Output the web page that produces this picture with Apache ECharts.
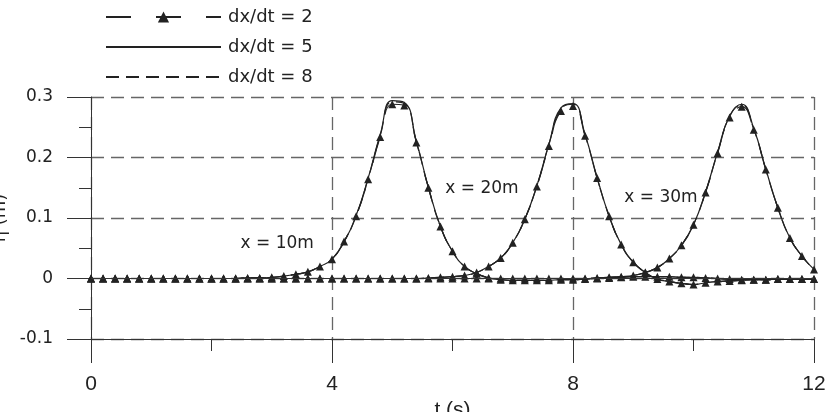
<!DOCTYPE html>
<html><head><meta charset="utf-8">
<script src="https://cdn.jsdelivr.net/npm/echarts@6/dist/echarts.min.js"></script>
<style>html,body{margin:0;padding:0;background:#fff}#c{width:827px;height:412px}</style>
</head><body><div id="c"></div>
<script>
// time samples (s)
const timeS = [0,0.2,0.4,0.6,0.8,1,1.2,1.4,1.6,1.8,2,2.2,2.4,2.6,2.8,3,3.2,3.4,3.6,3.8,4,4.2,4.4,4.6,4.8,5,5.2,5.4,5.6,5.8,6,6.2,6.4,6.6,6.8,7,7.2,7.4,7.6,7.8,8,8.2,8.4,8.6,8.8,9,9.2,9.4,9.6,9.8,10,10.2,10.4,10.6,10.8,11,11.2,11.4,11.6,11.8,12];

// gauge x = 10m
const x10_dt2 = [0,0,0,0,0,0,0,0,0,0, 0,0,0,0.001,0.001, 0.002,0.004,0.007,0.011,0.020, 0.032,0.061,0.103,0.164,0.234, 0.288,0.286,0.225,0.150,0.086, 0.045,0.020,0.008,0.001,-0.002, -0.003,-0.003,-0.003,-0.003,-0.002, -0.002,-0.001,0.000,0.001,0.002, 0.003,0.003,0.003,0.003,0.002, 0.002,0.001,0.000,-0.001,-0.002, -0.002,-0.002,-0.001,-0.001,-0.001, -0.001];
const x10_dt5 = [0,0,0,0,0,0,0,0,0,0, 0,0,0,0.001,0.001, 0.002,0.004,0.007,0.011,0.020, 0.032,0.061,0.104,0.166,0.238, 0.294,0.291,0.227,0.151,0.086, 0.045,0.020,0.008,0.001,-0.002, -0.003,-0.003,-0.003,-0.003,-0.002, -0.002,-0.001,0.000,0.001,0.002, 0.003,0.003,0.003,0.003,0.002, 0.002,0.001,0.000,-0.001,-0.002, -0.002,-0.002,-0.001,-0.001,-0.001, -0.001];
const x10_dt8 = [0,0,0,0,0,0,0,0,0,0, 0,0,0,0.001,0.001, 0.002,0.004,0.007,0.011,0.020, 0.032,0.061,0.103,0.165,0.236, 0.292,0.289,0.226,0.150,0.086, 0.045,0.020,0.008,0.001,-0.002, -0.003,-0.003,-0.003,-0.003,-0.002, -0.002,-0.001,0.000,0.001,0.002, 0.003,0.003,0.003,0.003,0.002, 0.002,0.001,0.000,-0.001,-0.002, -0.002,-0.002,-0.001,-0.001,-0.001, -0.001];

// gauge x = 20m
const x20_dt2 = [0,0,0,0,0,0,0,0,0,0, 0,0,0,0,0, 0,0,0,0,0, 0,0,0,0,0, 0,0,0,0.001,0.002, 0.003,0.005,0.010,0.020,0.034, 0.059,0.098,0.152,0.219,0.277, 0.285,0.236,0.166,0.103,0.056, 0.027,0.010,-0.001,-0.005,-0.008, -0.010,-0.007,-0.005,-0.004,-0.003, -0.002,-0.002,-0.001,-0.001,-0.001, -0.001];
const x20_dt5 = [0,0,0,0,0,0,0,0,0,0, 0,0,0,0,0, 0,0,0,0,0, 0,0,0,0,0, 0,0,0,0.001,0.002, 0.003,0.005,0.010,0.020,0.034, 0.059,0.098,0.153,0.222,0.282, 0.289,0.238,0.167,0.103,0.056, 0.027,0.010,-0.001,-0.005,-0.008, -0.010,-0.007,-0.005,-0.004,-0.003, -0.002,-0.002,-0.001,-0.001,-0.001, -0.001];
const x20_dt8 = [0,0,0,0,0,0,0,0,0,0, 0,0,0,0,0, 0,0,0,0,0, 0,0,0,0,0, 0,0,0,0.001,0.002, 0.003,0.005,0.010,0.020,0.034, 0.059,0.098,0.153,0.221,0.280, 0.288,0.237,0.166,0.103,0.056, 0.027,0.010,-0.001,-0.005,-0.008, -0.010,-0.007,-0.005,-0.004,-0.003, -0.002,-0.002,-0.001,-0.001,-0.001, -0.001];

// gauge x = 30m
const x30_dt2 = [0,0,0,0,0,0,0,0,0,0, 0,0,0,0,0,0,0,0,0,0, 0,0,0,0,0,0,0,0,0,0, 0,0,0,0,0,0,0,0,0,0, 0,0,0.001,0.002,0.003, 0.005,0.010,0.018,0.033,0.055, 0.089,0.142,0.207,0.266,0.284, 0.246,0.180,0.117,0.067,0.037, 0.015];
const x30_dt5 = [0,0,0,0,0,0,0,0,0,0, 0,0,0,0,0,0,0,0,0,0, 0,0,0,0,0,0,0,0,0,0, 0,0,0,0,0,0,0,0,0,0, 0,0,0.001,0.002,0.003, 0.005,0.010,0.018,0.033,0.055, 0.089,0.143,0.209,0.269,0.288, 0.248,0.181,0.117,0.067,0.037, 0.015];
const x30_dt8 = [0,0,0,0,0,0,0,0,0,0, 0,0,0,0,0,0,0,0,0,0, 0,0,0,0,0,0,0,0,0,0, 0,0,0,0,0,0,0,0,0,0, 0,0,0.001,0.002,0.003, 0.005,0.010,0.018,0.033,0.055, 0.089,0.143,0.208,0.268,0.287, 0.247,0.180,0.117,0.067,0.037, 0.015];

const legendNames = ['dx/dt = 2', 'dx/dt = 5', 'dx/dt = 8'];
const xTickLabels = ['0', '4', '8', '12'];
const yTickLabels = ['-0.1', '0', '0.1', '0.2', '0.3'];
const annoText = ['x = 10m', 'x = 20m', 'x = 30m'];
const annoT = [3.09, 6.49, 9.46];
const annoEta = [0.058, 0.149, 0.134];

const INK = '#222';
const FONT = 'DejaVu Sans';
const pairs = arr => timeS.map((t, i) => [t, arr[i]]);

const styles = {
  'dx/dt = 2': { lineStyle: { type: [25, 25], width: 1.2, color: INK }, symbol: 'triangle', symbolSize: 8, showSymbol: true },
  'dx/dt = 5': { lineStyle: { type: 'solid', width: 1.2, color: INK }, symbol: 'none', showSymbol: false },
  'dx/dt = 8': { lineStyle: { type: [13, 7], width: 1.2, color: INK }, symbol: 'none', showSymbol: false }
};

const groups = [
  ['dx/dt = 2', [x10_dt2, x20_dt2, x30_dt2]],
  ['dx/dt = 5', [x10_dt5, x20_dt5, x30_dt5]],
  ['dx/dt = 8', [x10_dt8, x20_dt8, x30_dt8]]
];

const series = [];
// draw lines first, markers on top
[groups[2], groups[1], groups[0]].forEach(([name, arrs]) => {
  arrs.forEach(arr => {
    const st = styles[name];
    series.push({
      name, type: 'line', data: pairs(arr), smooth: 0.5,
      symbol: st.symbol, symbolSize: st.symbolSize || 0, showSymbol: st.showSymbol, showAllSymbol: true,
      itemStyle: { color: INK }, lineStyle: st.lineStyle, z: name === 'dx/dt = 2' ? 4 : 3
    });
  });
});

series[0].markLine = {
  silent: true, symbol: ['none', 'none'], label: { show: false },
  lineStyle: { type: 'solid', color: '#333', width: 1 },
  data: [{ yAxis: 0 }]
};
series[0].markPoint = {
  symbol: 'circle', symbolSize: 0, silent: true,
  label: { show: true, position: 'inside', formatter: p => p.name, color: INK, fontSize: 17, fontFamily: FONT },
  data: annoText.map((s, i) => ({ name: s, coord: [annoT[i], annoEta[i]] }))
};

const chart = echarts.init(document.getElementById('c'), null, { renderer: 'canvas' });
chart.setOption({
  animation: false,
  backgroundColor: '#fff',
  grid: { left: 91, right: 13, top: 97, bottom: 73, containLabel: false, outerBoundsMode: 'none' },
  legend: {
    data: [
      { name: legendNames[0] },
      { name: legendNames[1], itemStyle: { opacity: 0 } },
      { name: legendNames[2], itemStyle: { opacity: 0 } }
    ],
    orient: 'vertical', left: 100, top: 3,
    itemWidth: 115, itemHeight: 14, itemGap: 12,
    textStyle: { fontSize: 18, color: INK, fontFamily: FONT, padding: [0, 0, 0, 2] },
    inactiveColor: '#ccc'
  },
  xAxis: {
    type: 'value', min: 0, max: 12, interval: 4,
    name: 't (s)', nameLocation: 'middle', nameGap: 56,
    nameTextStyle: { fontSize: 21, color: INK, fontFamily: 'Liberation Sans' },
    axisLine: { show: true, onZero: false, lineStyle: { color: '#333', width: 1 } },
    axisTick: { show: true, length: 24, lineStyle: { color: '#333' } },
    minorTick: { show: true, splitNumber: 2, length: 12, lineStyle: { color: '#333' } },
    splitLine: { show: true, lineStyle: { type: [13, 7], color: '#666', width: 1.3 } },
    axisLabel: { margin: 35, fontSize: 21, color: INK, fontFamily: 'Liberation Sans',
      formatter: v => xTickLabels[Math.round(v / 4)] }
  },
  yAxis: {
    type: 'value', min: -0.1, max: 0.3, interval: 0.1,
    name: 'η (m)', nameLocation: 'middle', nameGap: 78, nameRotate: 90,
    nameTextStyle: { fontSize: 18, color: INK, fontFamily: FONT },
    axisLine: { show: true, onZero: false, lineStyle: { color: '#333', width: 1 } },
    axisTick: { show: true, length: 24, lineStyle: { color: '#333' } },
    minorTick: { show: true, splitNumber: 2, length: 12, lineStyle: { color: '#333' } },
    splitLine: { show: true, lineStyle: { type: [13, 7], color: '#666', width: 1.3 } },
    axisLabel: { margin: 38, fontSize: 17, color: INK, fontFamily: FONT,
      formatter: v => yTickLabels[Math.round(v * 10) + 1] }
  },
  series
});
</script></body></html>
